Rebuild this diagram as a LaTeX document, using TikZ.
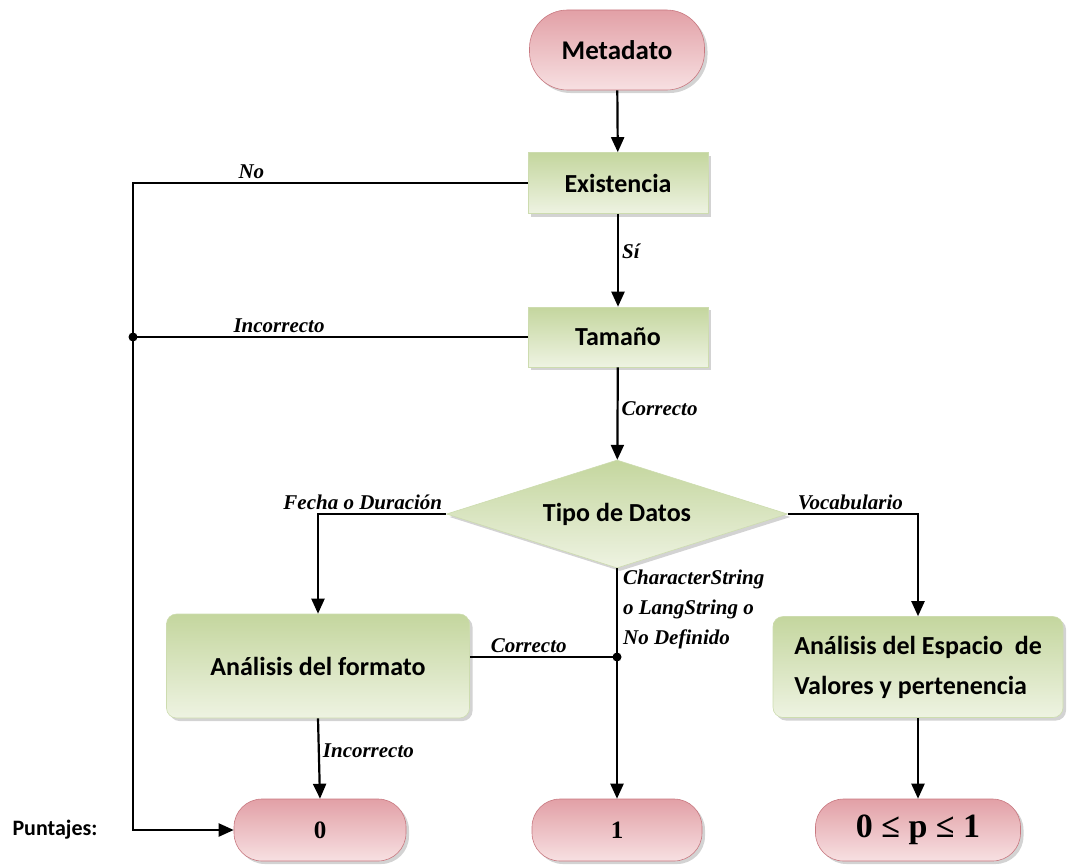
\documentclass[tikz,border=0pt]{standalone}
\usepackage{fontspec}
\setmainfont{Carlito}
\newfontfamily\etiqfont{Liberation Serif}
\usetikzlibrary{shapes.geometric,shadows,arrows.meta,positioning}

\definecolor{verdeosc}{RGB}{196,214,158}
\definecolor{verdecla}{RGB}{238,243,226}
\definecolor{verdeborde}{RGB}{205,220,175}
\definecolor{rosaosc}{RGB}{226,160,166}
\definecolor{rosacla}{RGB}{247,224,226}
\definecolor{rosaborde}{RGB}{200,120,128}

\tikzset{
  sombra/.style={drop shadow={shadow xshift=3pt, shadow yshift=-3pt, opacity=0.35}},
  proceso/.style={draw=verdeborde, line width=0.6pt, top color=verdeosc, bottom color=verdecla,
    sombra, font=\fontsize{26}{40}\selectfont\bfseries, inner sep=0pt},
  terminal/.style={draw=rosaborde, line width=0.6pt, top color=rosaosc, bottom color=rosacla,
    sombra, inner sep=0pt},
  etiq/.style={font=\etiqfont\fontsize{21}{30}\selectfont\bfseries\itshape, inner sep=3pt},
  flecha/.style={line width=2.2pt, -{Triangle[length=15pt, width=13pt]}},
  linea/.style={line width=2.2pt},
  punto/.style={circle, fill=black, inner sep=0pt, minimum size=9pt}
}

\begin{document}
\begin{tikzpicture}[x=1pt, y=-1pt]
    \useasboundingbox (0,0) rectangle (1067,867);

    \node[terminal, minimum width=175pt, minimum height=80pt, rounded corners=38pt,
      font=\fontsize{27}{30}\selectfont\bfseries] (metadato) at (617,50) {Metadato};
    \node[proceso, minimum width=180pt, minimum height=61pt] (existencia) at (618,183) {Existencia};
    \node[proceso, minimum width=180pt, minimum height=60pt] (tamano) at (618,337) {Tamaño};
    \node[proceso, diamond, aspect=3.1, minimum width=341pt, minimum height=108pt] (tipo) at (617,514) {Tipo de Datos};

    \node[proceso, rounded corners=10pt, minimum width=303pt, minimum height=104pt] (formato) at (318,666) {Análisis del formato};
    \node[proceso, rounded corners=10pt, minimum width=290pt, minimum height=101pt, align=left] (espacio) at (918,667)
      {Análisis del Espacio~ de\\Valores y pertenencia};

    \node[terminal, minimum width=172pt, minimum height=62pt, rounded corners=28pt,
      font=\etiqfont\fontsize{25}{30}\selectfont\bfseries] (cero) at (320,830) {0};
    \node[terminal, minimum width=170pt, minimum height=62pt, rounded corners=28pt,
      font=\etiqfont\fontsize{25}{30}\selectfont\bfseries] (uno) at (617,830) {1};
    \node[terminal, minimum width=205pt, minimum height=62pt, rounded corners=28pt,
      font=\etiqfont\fontsize{34}{36}\selectfont\bfseries] (rango) at (918,830) {0 ≤ p ≤ 1};

    \node[font=\fontsize{22}{26}\selectfont\bfseries] (puntajes) at (55,830) {Puntajes:};

    \coordinate (izq) at (133,0);
    \coordinate (union) at (617,657);

    % camino principal
    \draw[flecha] (metadato) -- (existencia);
    \draw[flecha] (existencia) -- node[etiq, right, pos=0.4] {Sí} (tamano);
    \draw[flecha] (tamano) -- node[etiq, right, pos=0.45] {Correcto} (tipo);

    % puntaje 0 por la izquierda
    \draw[flecha] (existencia.west) -- node[etiq, above, pos=0.7] {No} (existencia.west -| izq) |- (cero.west);
    \draw[linea] (tamano.west) -- node[etiq, above, pos=0.63] {Incorrecto} (tamano.west -| izq)
      node[punto] {};

    % ramas del tipo de datos
    \draw[flecha] (tipo.west) node[etiq, above left] {Fecha o Duración} -| (formato.north);
    \draw[flecha] (tipo.east) node[etiq, above right, xshift=6pt] {Vocabulario} -| (espacio.north);
    \draw[flecha] (tipo.south) node[etiq, below right, align=left, xshift=2pt, yshift=2pt]
      {CharacterString\\o LangString o\\No Definido} -- (uno.north);

    \draw[linea] ([yshift=9pt]formato.east) -- node[etiq, above, pos=0.4] {Correcto} (union) node[punto] {};
    \draw[flecha] (formato.south) -- node[etiq, right, pos=0.4] {Incorrecto} (cero.north);
    \draw[flecha] (espacio.south) -- (rango.north);
\end{tikzpicture}
\end{document}
